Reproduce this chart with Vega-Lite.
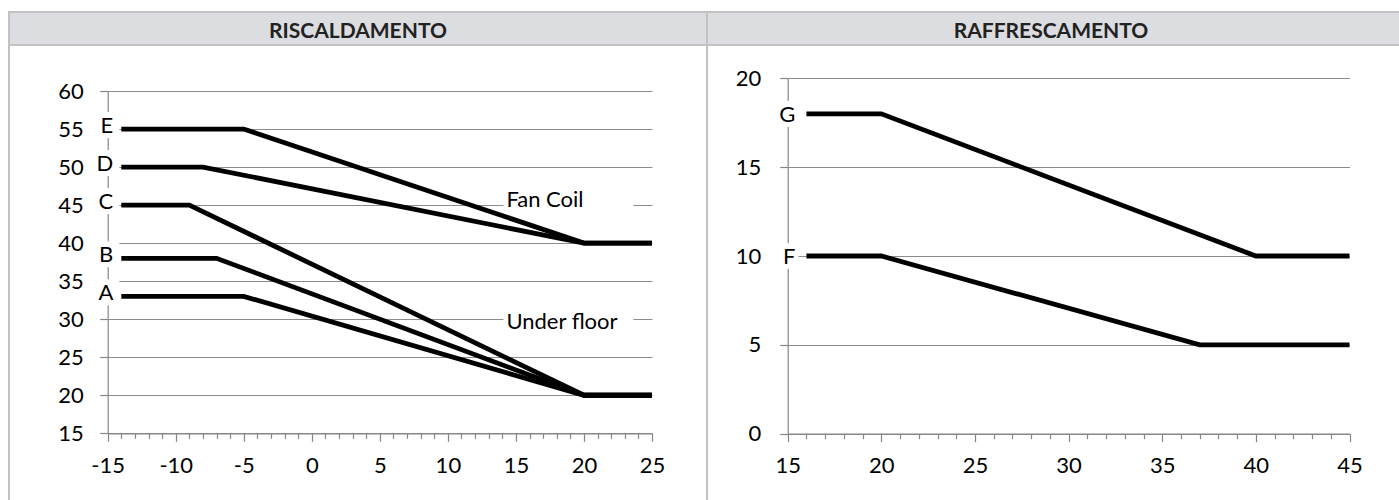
{
  "$schema": "https://vega.github.io/schema/vega-lite/v6.json",
  "padding": {"left": 8, "top": 11, "right": 0, "bottom": 0},
  "background": "white",
  "columns": 2,
  "spacing": 0,
  "bounds": "flush",
  "datasets": {
    "curveL": [
      {"serie": "E", "t": -14, "v": 55}, {"serie": "E", "t": -5, "v": 55}, {"serie": "E", "t": 20, "v": 40}, {"serie": "E", "t": 25, "v": 40},
      {"serie": "D", "t": -14, "v": 50}, {"serie": "D", "t": -8, "v": 50}, {"serie": "D", "t": 20, "v": 40}, {"serie": "D", "t": 25, "v": 40},
      {"serie": "C", "t": -14, "v": 45}, {"serie": "C", "t": -9, "v": 45}, {"serie": "C", "t": 20, "v": 20}, {"serie": "C", "t": 25, "v": 20},
      {"serie": "B", "t": -14, "v": 38}, {"serie": "B", "t": -7, "v": 38}, {"serie": "B", "t": 20, "v": 20}, {"serie": "B", "t": 25, "v": 20},
      {"serie": "A", "t": -14, "v": 33}, {"serie": "A", "t": -5, "v": 33}, {"serie": "A", "t": 20, "v": 20}, {"serie": "A", "t": 25, "v": 20}
    ],
    "etichetteL": [
      {"serie": "E", "t": -14, "v": 55},
      {"serie": "D", "t": -14, "v": 50},
      {"serie": "C", "t": -14, "v": 45},
      {"serie": "B", "t": -14, "v": 38},
      {"serie": "A", "t": -14, "v": 33}
    ],
    "noteL": [
      {"nota": "Fan Coil", "t": 14.3, "v": 45.7},
      {"nota": "Under floor", "t": 14.3, "v": 29.6}
    ],
    "curveR": [
      {"serie": "G", "t": 16, "v": 18}, {"serie": "G", "t": 20, "v": 18}, {"serie": "G", "t": 40, "v": 10}, {"serie": "G", "t": 45, "v": 10},
      {"serie": "F", "t": 16, "v": 10}, {"serie": "F", "t": 20, "v": 10}, {"serie": "F", "t": 37, "v": 5}, {"serie": "F", "t": 45, "v": 5}
    ],
    "etichetteR": [
      {"serie": "G", "t": 16, "v": 18},
      {"serie": "F", "t": 16, "v": 10}
    ]
  },
  "config": {
    "font": "Lato",
    "axis": {
      "labelFont": "Lato",
      "labelFontSize": 22,
      "labelColor": "#000000",
      "domainColor": "#868686",
      "tickColor": "#868686",
      "gridColor": "#8c8c8c",
      "gridWidth": 1,
      "domainWidth": 1.2,
      "tickWidth": 1.2,
      "title": null,
      "labelOverlap": false,
      "labelBound": false,
      "labelFlush": false
    }
  },
  "concat": [
    {
      "width": 698,
      "height": 33,
      "view": {"fill": "#dcdde0", "stroke": "#c2c2c2", "strokeWidth": 2},
      "data": {"values": [{"titolo": "RISCALDAMENTO"}]},
      "mark": {"type": "text", "font": "Lato", "fontSize": 21, "fontWeight": "bold", "color": "#222222", "baseline": "middle", "dy": 3},
      "encoding": {"text": {"field": "titolo"}}
    },
    {
      "width": 700,
      "height": 33,
      "view": {"fill": "#dcdde0", "stroke": "#c2c2c2", "strokeWidth": 2},
      "data": {"values": [{"titolo": "RAFFRESCAMENTO"}]},
      "mark": {"type": "text", "font": "Lato", "fontSize": 21, "fontWeight": "bold", "color": "#222222", "baseline": "middle", "dy": 3, "dx": -6},
      "encoding": {"text": {"field": "titolo"}}
    },
    {
      "width": 698,
      "height": 470,
      "view": {"fill": "white", "stroke": "#c2c2c2", "strokeWidth": 2},
      "encoding": {
        "x": {
          "field": "t", "type": "quantitative",
          "scale": {"domain": [-15, 25], "range": [98.7, 643], "nice": false, "zero": false},
          "axis": {
            "offset": -81.7,
            "values": [-15,-14,-13,-12,-11,-10,-9,-8,-7,-6,-5,-4,-3,-2,-1,0,1,2,3,4,5,6,7,8,9,10,11,12,13,14,15,16,17,18,19,20,21,22,23,24,25],
            "labelExpr": "datum.value % 5 === 0 ? '' + datum.value : ''",
            "tickSize": {"condition": {"test": "datum.value % 5 === 0", "value": 8}, "value": 5},
            "labelPadding": 14,
            "grid": false
          }
        },
        "y": {
          "field": "v", "type": "quantitative",
          "scale": {"domain": [15, 60], "range": [388.3, 46], "nice": false, "zero": false},
          "axis": {
            "offset": -98.7,
            "values": [15, 20, 25, 30, 35, 40, 45, 50, 55, 60],
            "labelExpr": "'' + datum.value",
            "tickSize": 8,
            "labelPadding": 16.5,
            "grid": true
          }
        }
      },
      "layer": [
        {
          "data": {"name": "etichetteL"},
          "mark": {"type": "point", "shape": "M-0.85,-1H0.85V1H-0.85Z", "size": 676, "filled": true, "color": "white", "fill": "white", "opacity": 1, "strokeWidth": 0, "xOffset": -13, "yOffset": -4}
        },
        {
          "data": {"name": "noteL"},
          "mark": {"type": "tick", "orient": "horizontal", "size": 130, "thickness": 22, "color": "white", "opacity": 1, "xOffset": 62, "yOffset": -1}
        },
        {
          "data": {"name": "curveL"},
          "mark": {"type": "line", "color": "black", "strokeWidth": 4.8},
          "encoding": {"detail": {"field": "serie"}}
        },
        {
          "data": {"name": "etichetteL"},
          "mark": {"type": "text", "align": "right", "baseline": "middle", "dx": -8, "dy": -3, "font": "Lato", "fontSize": 22, "color": "black"},
          "encoding": {"text": {"field": "serie"}}
        },
        {
          "data": {"name": "noteL"},
          "mark": {"type": "text", "align": "left", "baseline": "middle", "font": "Lato", "fontSize": 22, "color": "black"},
          "encoding": {"text": {"field": "nota"}}
        }
      ]
    },
    {
      "width": 700,
      "height": 470,
      "view": {"fill": "white", "stroke": "#c2c2c2", "strokeWidth": 2},
      "encoding": {
        "x": {
          "field": "t", "type": "quantitative",
          "scale": {"domain": [15, 45], "range": [80.7, 642.5], "nice": false, "zero": false},
          "axis": {
            "offset": -81.3,
            "values": [15,16,17,18,19,20,21,22,23,24,25,26,27,28,29,30,31,32,33,34,35,36,37,38,39,40,41,42,43,44,45],
            "labelExpr": "datum.value % 5 === 0 ? '' + datum.value : ''",
            "tickSize": {"condition": {"test": "datum.value % 5 === 0", "value": 8}, "value": 5},
            "labelPadding": 14,
            "grid": false
          }
        },
        "y": {
          "field": "v", "type": "quantitative",
          "scale": {"domain": [0, 20], "range": [388.7, 33.3], "nice": false, "zero": false},
          "axis": {
            "offset": -80.7,
            "values": [0, 5, 10, 15, 20],
            "labelExpr": "'' + datum.value",
            "tickSize": 8,
            "labelPadding": 19,
            "grid": true
          }
        }
      },
      "layer": [
        {
          "data": {"name": "etichetteR"},
          "mark": {"type": "point", "shape": "M-0.85,-1H0.85V1H-0.85Z", "size": 676, "filled": true, "color": "white", "fill": "white", "opacity": 1, "strokeWidth": 0, "xOffset": -19, "yOffset": 0}
        },
        {
          "data": {"name": "curveR"},
          "mark": {"type": "line", "color": "black", "strokeWidth": 4.8},
          "encoding": {"detail": {"field": "serie"}}
        },
        {
          "data": {"name": "etichetteR"},
          "mark": {"type": "text", "align": "right", "baseline": "middle", "dx": -11, "dy": 1, "font": "Lato", "fontSize": 22, "color": "black"},
          "encoding": {"text": {"field": "serie"}}
        }
      ]
    }
  ]
}
